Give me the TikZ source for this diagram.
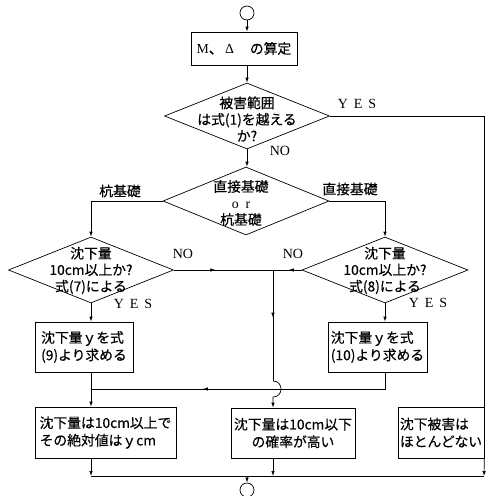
\documentclass[tikz,border=0pt]{standalone}
\usepackage{fontspec}
\setmainfont{Liberation Serif}
\newfontfamily\cjk[FakeBold=0.4]{Noto Sans CJK JP}
\usetikzlibrary{arrows.meta,shapes.geometric,decorations.markings}
\begin{document}
\begin{tikzpicture}[x=1pt,y=-1pt,line width=0.7pt,
  txt/.style={font=\cjk\fontsize{13.8}{16.5}\selectfont, inner sep=0pt},
  box/.style={draw, rectangle, inner sep=0pt, font=\cjk\fontsize{13.8}{17.5}\selectfont},
  dia/.style={draw, diamond, inner sep=0pt},
  term/.style={draw, circle, inner sep=0pt, minimum size=14pt},
  lab/.style={font=\fontsize{14}{16}\selectfont, inner sep=0pt},
  arr/.style={-{Latex[length=5pt,width=3.5pt]}},
  midarr/.style={postaction={decorate}, decoration={markings, mark=at position #1 with {\arrow{Latex[length=5pt,width=3.5pt]}}}}
]
\useasboundingbox (0,0) rectangle (496,496);

% nodes
\node[term] (s) at (247,13) {};
\node[box, minimum width=106pt, minimum height=33pt] (m) at (244,48.5) {{\rmfamily M}、{\rmfamily\,Δ}\hspace{16pt}の算定};

\node[dia, minimum width=165pt, minimum height=66pt] (d1) at (247,116) {};
\node[txt, align=center] (d1t) at (247,119) {被害範囲\\は式(1)を越える\\か?};

\node[dia, minimum width=166pt, minimum height=68pt] (d2) at (246,201) {};
\node[txt, align=center] (d2t) at (241,203) {直接基礎\\{\rmfamily o\hspace{7pt}r}\\杭基礎};

\node[dia, minimum width=165pt, minimum height=66pt] (d3l) at (91,270) {};
\node[txt, align=center] (d3lt) at (91,270.5) {沈下量\\10cm以上か?\\式(7)による};

\node[dia, minimum width=166pt, minimum height=66pt] (d3r) at (385,270) {};
\node[txt, align=center] (d3rt) at (385,270.5) {沈下量\\10cm以上か?\\式(8)による};

\node[box, align=left, minimum width=98pt, minimum height=50pt] (b9) at (84,347) {沈下量ｙを式\\(9)より求める};
\node[box, align=left, minimum width=99pt, minimum height=50pt] (b10) at (377.5,347) {沈下量ｙを式\\(10)より求める};

\node[box, align=left, minimum width=141pt, minimum height=51pt] (bl) at (105.5,432.5) {沈下量は10cm以上で\\その絶対値はｙcm};
\node[box, align=center, minimum width=124pt, minimum height=50pt] (bm) at (293,433) {沈下量は10cm以下\\の確率が高い};
\node[box, align=left, minimum width=86pt, minimum height=51pt] (br) at (441,432.5) {沈下被害は\\ほとんどない};

\node[term] (e) at (247,490) {};

% labels
\node[lab] (yes1) at (357,104) {Y\hspace{6pt}E\hspace{6pt}S};
\node[lab] (no1) at (280,151) {NO};
\node[txt] (lk) at (120,191) {杭基礎};
\node[txt] (lc) at (350,189) {直接基礎};
\node[lab] (no2) at (183,254) {NO};
\node[lab] (no3) at (293,254) {NO};
\node[lab] (yes2) at (133,304) {Y\hspace{6pt}E\hspace{6pt}S};
\node[lab] (yes3) at (428,303) {Y\hspace{6pt}E\hspace{6pt}S};

% coordinates
\coordinate (j) at (273,270);
\coordinate (hopA) at (273,381);
\coordinate (hopB) at (273,397);
\coordinate (mrg) at (91,389);
\coordinate (bl1) at (91,476);
\coordinate (bm1) at (273,476);
\coordinate (br1) at (484,476);
\coordinate (bc) at (247,476);

% connectors
\draw[arr] (s.south) -- (s.south |- m.north);
\draw[arr] (d1.north |- m.south) -- (d1.north);
\draw[arr] (d1.south) -- (d1.south |- d2.north);
\draw (d1.east) -| (br.north east);
\draw[arr] (d2.west) -| (d3l.north);
\draw[arr] (d2.east) -| (d3r.north);
\draw[midarr=0.42] (d3l.east) -- (j);
\draw[midarr=0.45] (d3r.west) -- (j);
\draw[midarr=0.43] (j) -- (hopA);
\draw[arr] (hopA) .. controls +(10.7,0) and +(10.7,0) .. (hopB) -- (hopB |- bm.north);
\draw[arr] (d3l.south) -- (d3l.south |- b9.north);
\draw[arr] (d3r.south) -- (d3r.south |- b10.north);
\draw[midarr=0.64] (d3r.south |- b10.south) |- (mrg);
\draw[arr] (d3l.south |- b9.south) -- (d3l.south |- bl.north);
\draw[arr] (bl1 |- bl.south) -- (bl1);
\draw[arr] (bm1 |- bm.south) -- (bm1);
\draw[arr] (br.south east) -- (br1);
\draw (bl1) -- (br1);
\draw[arr] (bc) -- (e.north);
\end{tikzpicture}
\end{document}
